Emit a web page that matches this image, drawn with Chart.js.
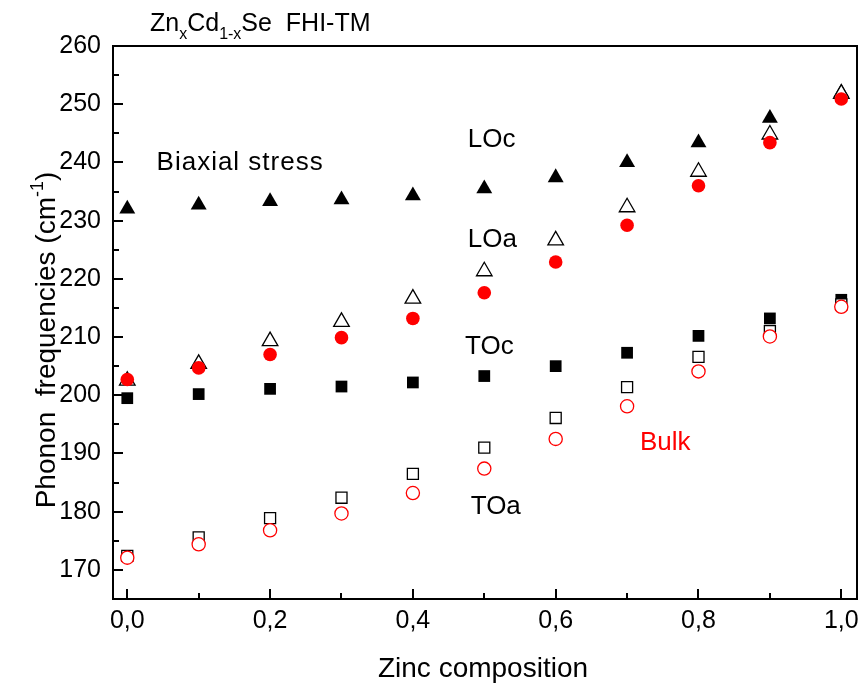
<!DOCTYPE html>
<html><head><meta charset="utf-8">
<script src="https://cdn.jsdelivr.net/npm/chart.js@4.4.0/dist/chart.umd.min.js"></script>
<style>html,body{margin:0;padding:0;background:#fff;}canvas{display:block;}</style>
</head><body>
<canvas id="c" width="861" height="686"></canvas>
<script>
// ---- data ----
const composition = [0.0, 0.1, 0.2, 0.3, 0.4, 0.5, 0.6, 0.7, 0.8, 0.9, 1.0];
const LOc    = [232.0, 232.7, 233.3, 233.6, 234.3, 235.5, 237.4, 240.0, 243.4, 247.6, 252.0];
const LOa    = [202.5, 205.4, 209.3, 212.6, 216.6, 221.3, 226.6, 232.3, 238.4, 244.8, 251.8];
const TOc    = [199.5, 200.2, 201.1, 201.5, 202.2, 203.3, 205.0, 207.3, 210.2, 213.2, 216.4];
const TOa    = [172.4, 175.6, 178.9, 182.4, 186.5, 191.0, 196.1, 201.4, 206.6, 211.0, 215.6];
const LObulk = [202.7, 204.7, 207.0, 209.9, 213.2, 217.6, 222.9, 229.2, 236.0, 243.4, 250.9];
const TObulk = [172.1, 174.4, 176.8, 179.7, 183.2, 187.4, 192.5, 198.1, 204.1, 210.1, 215.2];

const xTicks = [0.0, 0.2, 0.4, 0.6, 0.8, 1.0];
const xMinorTicks = [0.1, 0.3, 0.5, 0.7, 0.9];
const yTicks = [170, 180, 190, 200, 210, 220, 230, 240, 250, 260];
const yMinorTicks = [175, 185, 195, 205, 215, 225, 235, 245, 255];

const annotationTexts = ['Biaxial stress', 'LOc', 'LOa', 'TOc', 'TOa', 'Bulk'];
const annotationX = [0.041, 0.477, 0.477, 0.473, 0.481, 0.718];
const annotationY = [238.7, 242.6, 225.5, 207.1, 179.6, 190.6];
const annotationColors = ['#000', '#000', '#000', '#000', '#000', '#ff0000'];

const FONT = '"Liberation Sans", Arial, sans-serif';
const pts = arr => composition.map((x, i) => ({x: x, y: arr[i]}));

const frameAndText = {
  id: 'frameAndText',
  afterDraw(chart) {
    const ctx = chart.ctx, xs = chart.scales.x, ys = chart.scales.y, ca = chart.chartArea;
    ctx.save();
    ctx.strokeStyle = '#000';
    ctx.lineWidth = 2;
    ctx.beginPath();
    ctx.moveTo(ca.left - 1, ca.top);
    ctx.lineTo(ca.right, ca.top);
    ctx.lineTo(ca.right, ca.bottom + 1);
    ctx.stroke();
    const seg = (x1, y1, x2, y2) => { ctx.beginPath(); ctx.moveTo(x1, y1); ctx.lineTo(x2, y2); ctx.stroke(); };
    xTicks.forEach(v => { const p = Math.round(xs.getPixelForValue(v)); seg(p, ca.bottom, p, ca.bottom - 10); });
    xMinorTicks.forEach(v => { const p = Math.round(xs.getPixelForValue(v)); seg(p, ca.bottom, p, ca.bottom - 6); });
    yTicks.forEach(v => { const p = Math.round(ys.getPixelForValue(v)); seg(ca.left, p, ca.left + 10, p); });
    yMinorTicks.forEach(v => { const p = Math.round(ys.getPixelForValue(v)); seg(ca.left, p, ca.left + 6, p); });

    // annotations
    ctx.textBaseline = 'alphabetic';
    ctx.textAlign = 'left';
    ctx.font = '26px ' + FONT;
    annotationTexts.forEach((t, i) => {
      ctx.fillStyle = annotationColors[i];
      ctx.letterSpacing = t.length > 5 ? '1px' : '0px';
      ctx.fillText(t, xs.getPixelForValue(annotationX[i]), ys.getPixelForValue(annotationY[i]));
    });
    ctx.letterSpacing = '0px';

    // title with subscripts
    ctx.fillStyle = '#000';
    let tx = 150; const ty = 31;
    const piece = (s, size, dy) => { ctx.font = size + 'px ' + FONT; ctx.fillText(s, tx, ty + dy); tx += ctx.measureText(s).width; };
    piece('Zn', 25, 0); piece('x', 16, 8); piece('Cd', 25, 0); piece('1-x', 16, 8); piece('Se  FHI-TM', 25, 0);

    // x axis title
    ctx.font = '28px ' + FONT;
    ctx.textAlign = 'center';
    ctx.fillText('Zinc composition', 483, 677);

    // y axis title (rotated, with superscript)
    ctx.textAlign = 'left';
    ctx.translate(55, 340);
    ctx.rotate(-Math.PI / 2);
    const parts = [['Phonon  frequencies (cm', 28, 0], ['-1', 18, -12], [')', 28, 0]];
    let total = 0;
    parts.forEach(p => { ctx.font = p[1] + 'px ' + FONT; total += ctx.measureText(p[0]).width; });
    let px = -total / 2;
    parts.forEach(p => { ctx.font = p[1] + 'px ' + FONT; ctx.fillText(p[0], px, p[2]); px += ctx.measureText(p[0]).width; });
    ctx.restore();
  }
};

new Chart(document.getElementById('c'), {
  type: 'scatter',
  data: {
    datasets: [
      {label: 'TO bulk', data: pts(TObulk), pointStyle: 'circle', pointRadius: 6.6, backgroundColor: '#ffffff', borderColor: '#ff0000', borderWidth: 1.3},
      {label: 'LO bulk', data: pts(LObulk), pointStyle: 'circle', pointRadius: 6.8, backgroundColor: '#ff0000', borderColor: '#ff0000', borderWidth: 0},
      {label: 'TOa', data: pts(TOa), pointStyle: 'rect', pointRadius: 7.8, backgroundColor: '#ffffff', borderColor: '#000000', borderWidth: 1.3},
      {label: 'TOc', data: pts(TOc), pointStyle: 'rect', pointRadius: 8.3, backgroundColor: '#000000', borderColor: '#000000', borderWidth: 0},
      {label: 'LOa', data: pts(LOa), pointStyle: 'triangle', pointRadius: 9, backgroundColor: '#ffffff', borderColor: '#000000', borderWidth: 1.3},
      {label: 'LOc', data: pts(LOc), pointStyle: 'triangle', pointRadius: 9.2, backgroundColor: '#000000', borderColor: '#000000', borderWidth: 0}
    ]
  },
  options: {
    responsive: false,
    animation: false,
    devicePixelRatio: 1,
    clip: false,
    layout: {autoPadding: false, padding: {top: 46, right: 4, left: 0, bottom: 0}},
    plugins: {legend: {display: false}, tooltip: {enabled: false}},
    scales: {
      x: {
        type: 'linear', min: -0.02, max: 1.022,
        afterFit: s => { s.height = 87; s.paddingLeft = 0; s.paddingRight = 0; },
        afterBuildTicks: s => { s.ticks = xTicks.map(v => ({value: v})); },
        grid: {display: false, drawTicks: false},
        border: {display: true, color: '#000', width: 2},
        ticks: {color: '#000', padding: 7, font: {family: FONT, size: 25}, maxRotation: 0, autoSkip: false,
                callback: v => v.toFixed(1).replace('.', ',')}
      },
      y: {
        type: 'linear', min: 165, max: 260,
        afterFit: s => { s.width = 113; s.paddingTop = 0; s.paddingBottom = 0; },
        afterBuildTicks: s => { s.ticks = yTicks.map(v => ({value: v})); },
        grid: {display: false, drawTicks: false},
        border: {display: true, color: '#000', width: 2},
        ticks: {color: '#000', padding: 12, font: {family: FONT, size: 25}, autoSkip: false,
                callback: v => String(v)}
      }
    }
  },
  plugins: [frameAndText]
});
</script>
</body></html>
